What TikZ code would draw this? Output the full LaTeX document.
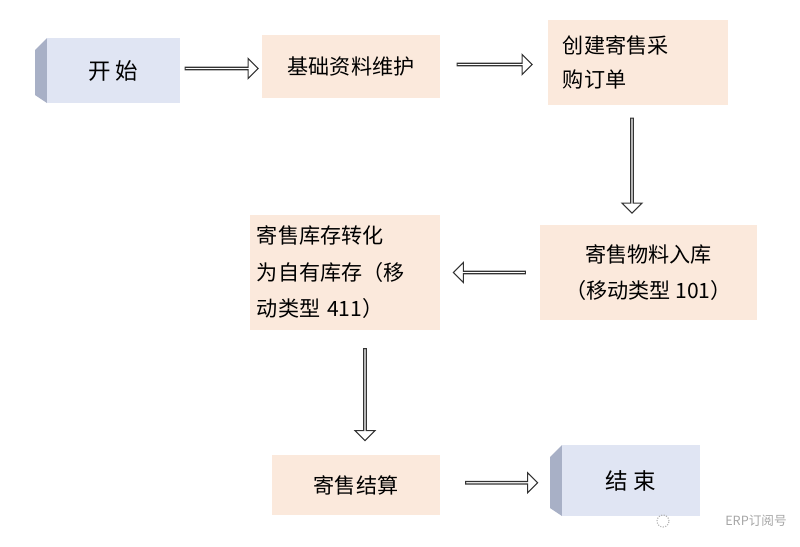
\documentclass[tikz,border=0pt]{standalone}
\usepackage{fontspec}
\newfontfamily\cjk{Noto Sans CJK SC}
\usetikzlibrary{shapes.arrows,calc}
\definecolor{peach}{HTML}{FBE9DC}
\definecolor{lav}{HTML}{E0E5F3}
\definecolor{bevel}{HTML}{A8B0C6}
\newcommand\px{*0.7113pt}
\tikzset{
  proc/.style={fill=peach, inner sep=0pt, font=\cjk\fontsize{15}{22}\selectfont},
  term/.style={fill=lav, inner sep=0pt, font=\cjk\fontsize{16}{22}\selectfont},
  harrow/.style={single arrow, draw=black!80, fill=white, line width=0.8pt,
    minimum width=14.2pt, single arrow head extend=2.8pt, inner sep=0pt, single arrow tip angle=90}
}
\begin{document}
\begin{tikzpicture}[x=0.025cm, y=-0.025cm]
  \useasboundingbox (0,0) rectangle (800,546);
  % start and end blocks with bevel
  \fill[bevel] (35,50) -- (47,38) -- (47,103) -- (35,95) -- cycle;
  \node[term, minimum width=133\px, minimum height=65\px] (start) at (113.5,70.5) {开\ 始};
  \fill[bevel] (550,457) -- (562,445) -- (562,516) -- (550,508) -- cycle;
  \node[term, minimum width=138\px, minimum height=71\px] (stop) at (631,480.5) {结\ 束};
  % process steps
  \node[proc, minimum width=178\px, minimum height=63\px] (base) at (351,66.5) {基础资料维护};
  \node[proc, minimum width=180\px, minimum height=85\px, text width=106.7pt, align=left] (order) at (638,62.5) {创建寄售采\\[2pt]购订单};
  \node[proc, minimum width=217\px, minimum height=95\px, align=center] (recv) at (648.5,272.5) {寄售物料入库\\[4pt]（移动类型 101）};
  \node[proc, minimum width=190\px, minimum height=115\px, text width=125.2pt, align=left] (conv) at (345,272.5) {寄售库存转化\\[4pt]为自有库存（移\\[4pt]动类型 411）};
  \node[proc, minimum width=168\px, minimum height=60\px] (settle) at (356,485) {寄售结算};
  % hollow block arrows
  \node[harrow, minimum height=73\px] (a1) at ($(start.east)!0.5!(base.west)$) {};
  \node[harrow, minimum height=75\px] (a2) at ($(base.east)!0.5!(order.west)$) {};
  \node[harrow, minimum height=95\px, rotate=-90] (a3) at (632,165) {};
  \node[harrow, minimum height=72\px, rotate=180] (a4) at ($(recv.west)!0.5!(conv.east)$) {};
  \node[harrow, minimum height=92\px, rotate=-90] (a5) at (365,394) {};
  \node[harrow, minimum height=72\px] (a6) at ($(settle.east)!0.5!(stop.west)$) {};
  % watermark
  \node[text=black!35, font=\cjk\fontsize{9}{10}\selectfont] (mark) at (756,521) {ERP订阅号};
  \draw[black!30, densely dotted, thick] (663,521) circle (0.15cm);
\end{tikzpicture}
\end{document}
